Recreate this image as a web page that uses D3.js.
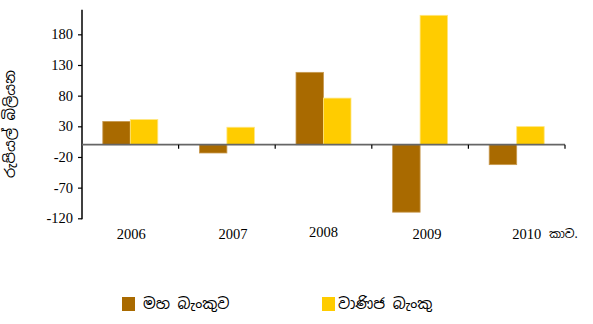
<!DOCTYPE html>
<html>
<head>
<meta charset="utf-8">
<script src="https://cdn.jsdelivr.net/npm/d3@7"></script>
<style>
  body { margin: 0; background: #fff; }
</style>
</head>
<body>
<div id="chart"></div>
<script>
// chart data
var years = ["2006", "2007", "2008", "2009", "2010"];
var seriesNames = ["මහ බැංකුව", "වාණිජ බැංකු"];
var centralBank = [38, -13.5, 118, -110, -32.5];
var commercialBanks = [41, 28.5, 76, 211, 29.5];
var yTicks = [-120, -70, -20, 30, 80, 130, 180];
var colors = ["#A96A00", "#FFCC00"];

var svgWidth = 593;
var svgHeight = 324;

var svg = d3.select("#chart")
  .append("svg")
  .attr("width", svgWidth)
  .attr("height", svgHeight);

var xLeft = 82, xRight = 565;
var yTop = 9.8, yBottom = 218.3;

var x0 = d3.scaleBand()
  .domain(years)
  .range([xLeft, xRight])
  .paddingInner(0)
  .paddingOuter(0);

var x1 = d3.scaleBand()
  .domain([0, 1])
  .range([0, 55]);

var y = d3.scaleLinear()
  .domain([-120, 220])
  .range([yBottom, yTop]);

var rows = years.map(function(yr, i) {
  return { year: yr, values: [centralBank[i], commercialBanks[i]] };
});

// bars
var groups = svg.selectAll("g.grp")
  .data(rows)
  .enter()
  .append("g")
  .attr("class", "grp")
  .attr("transform", d => `translate(${x0(d.year) + x0.bandwidth() / 2 - 27.5}, 0)`);

groups.selectAll("rect")
  .data(d => d.values.map((v, k) => ({ v: v, k: k })))
  .enter()
  .append("rect")
  .attr("x", d => x1(d.k))
  .attr("width", x1.bandwidth())
  .attr("y", d => d.v >= 0 ? y(d.v) : y(0))
  .attr("height", d => Math.abs(y(d.v) - y(0)))
  .attr("fill", d => colors[d.k])
  .attr("stroke", d => d.k === 0 ? "#c89a50" : "#ffe680")
  .attr("stroke-width", 0.8);

// y axis (plain hyphen for negatives, like the original)
var yAxis = svg.append("g")
  .attr("transform", `translate(${xLeft}, 0)`)
  .call(d3.axisLeft(y).tickValues(yTicks).tickFormat(d => String(d)).tickSize(4).tickPadding(5));
yAxis.attr("font-family", "'Liberation Serif', serif").attr("font-size", 14.5);
yAxis.selectAll(".tick text").attr("fill", "#000");
yAxis.select(".domain").attr("stroke", "#000").attr("stroke-width", 1.5)
  .attr("d", `M0,${yTop}V${yBottom + 1}`);
yAxis.selectAll(".tick line").attr("stroke", "#000").attr("stroke-width", 1.2);

// zero line with category ticks
svg.append("line")
  .attr("x1", xLeft).attr("x2", xRight)
  .attr("y1", y(0)).attr("y2", y(0))
  .attr("stroke", "#666")
  .attr("stroke-width", 1.8);

var catTicks = years.map(d => x0(d) + x0.bandwidth());
svg.selectAll("line.ctick")
  .data(catTicks)
  .enter()
  .append("line")
  .attr("class", "ctick")
  .attr("x1", d => d).attr("x2", d => d)
  .attr("y1", y(0)).attr("y2", y(0) + 4)
  .attr("stroke", "#000")
  .attr("stroke-width", 1.2);

// x labels
var labelShift = [1, 6, 0, 7, 10];
svg.selectAll("text.xlab")
  .data(years)
  .enter()
  .append("text")
  .attr("class", "xlab")
  .attr("x", (d, i) => x0(d) + x0.bandwidth() / 2 + labelShift[i])
  .attr("y", (d, i) => i === 2 ? 237 : 239)
  .attr("text-anchor", "middle")
  .style("font-family", "'Liberation Serif', serif")
  .style("font-size", "14.5px")
  .text(d => d);

svg.append("text")
  .attr("x", 549)
  .attr("y", 238)
  .style("font-family", "'Noto Sans Sinhala', 'Noto Sans', sans-serif")
  .style("font-size", "12px")
  .text("කාව.");

// y axis title
svg.append("text")
  .attr("transform", "rotate(-90)")
  .attr("x", -124)
  .attr("y", 15)
  .attr("text-anchor", "middle")
  .style("font-family", "'Noto Sans Sinhala', 'Noto Sans', sans-serif")
  .style("font-size", "14.5px")
  .text("රුපියල් බිලියන");

// legend
var legendX = [122, 322];
var legend = svg.selectAll("g.legend")
  .data(seriesNames)
  .enter()
  .append("g")
  .attr("class", "legend")
  .attr("transform", (d, i) => `translate(${legendX[i]}, 297)`);

legend.append("rect")
  .attr("width", 13)
  .attr("height", 14)
  .attr("fill", (d, i) => colors[i]);

legend.append("text")
  .attr("x", (d, i) => i === 0 ? 21 : 16)
  .attr("y", 12)
  .style("font-family", "'Noto Sans Sinhala', 'Noto Sans', sans-serif")
  .style("font-size", "15px")
  .text(d => d);
</script>
</body>
</html>
